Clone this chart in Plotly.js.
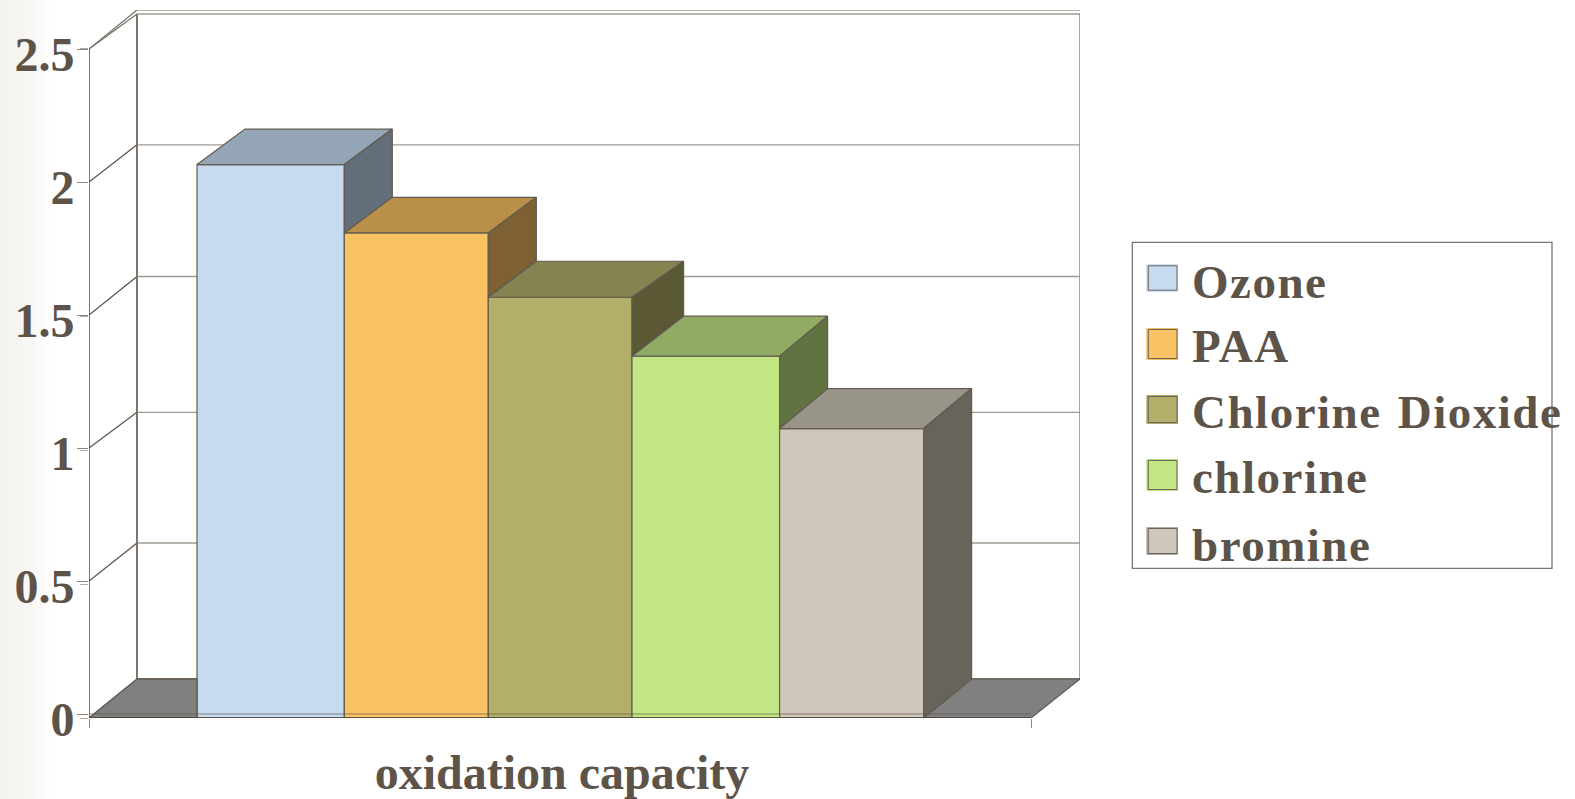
<!DOCTYPE html>
<html>
<head>
<meta charset="utf-8">
<script src="https://cdn.plot.ly/plotly-3.0.1.min.js"></script>
<style>
html,body{margin:0;padding:0;width:1575px;height:799px;overflow:hidden;background:linear-gradient(90deg,#f4f2ee 0,#f8f7f4 30px,#ffffff 54px);}
#chart{width:1575px;height:799px;}
.annotation-text{letter-spacing:1.5px;word-spacing:3px;}
</style>
</head>
<body>
<div id="chart"></div>
<script>
// ---- data ----
const categories = ['Ozone', 'PAA', 'Chlorine Dioxide', 'chlorine', 'bromine'];
const values = [2.065, 1.81, 1.57, 1.35, 1.08];
const axisLabel = 'oxidation capacity';
const yTicks = [0, 0.5, 1, 1.5, 2, 2.5];
const yTickText = ['0', '0.5', '1', '1.5', '2', '2.5'];

// ---- styles ----
const frontColors = ['#C6DBF0', '#F9C262', '#B2AF6A', '#C3E685', '#CFC7BA'];
const topColors = ['#94A5B5', '#BA8F4A', '#85834F', '#91AB64', '#9A958A'];
const sideColors = ['#626E7A', '#7D6132', '#5A5835', '#617340', '#67645C'];
const swatchEdge = ['#C3D8EC', '#F9BE5C', '#AFAC62', '#BEE37E', '#B5AEA1'];
const inkColor = '#5D5349';
const edgeColor = '#635B51';
const fontFamily = '"Liberation Serif", serif';
const FS = 48;

// ---- geometry (pixel frame of the drawing) ----
const W = 1575, H = 799;
const LEFT = 88.7, RIGHT = 1079.7, TOP = 10, ZERO = 718;
const SCALE = 268, TICKSCALE = 266, TICKZERO = 714;
const barEdges = [196.7, 344, 488, 631.7, 779.3, 923.3].map(p => p - LEFT);
const depthX = [48, 48, 51.6, 48, 48];
const depthY = [35.5, 35.6, 36, 40, 40].map(p => p / SCALE);
const WALLX = 48, WALLY = 39 / SCALE;
const FRONTEND = 1030.7 - LEFT;
const backGridPx = [679, 543, 412.3, 276.5, 144.8];   // printed position of each back-wall line

const toY = v => v * TICKSCALE / SCALE + (ZERO - TICKZERO) / SCALE;   // tick-plane value in bar units
const fromPx = p => (ZERO - p) / SCALE;
const px = p => (p - LEFT) / (RIGHT - LEFT);
const py = p => (ZERO - p) / (ZERO - TOP);

const traces = [];

// native bars: the front faces
categories.forEach((name, i) => {
  traces.push({
    type: 'bar', name, x: [(barEdges[i] + barEdges[i + 1]) / 2], y: [values[i]],
    width: [barEdges[i + 1] - barEdges[i]],
    marker: {color: frontColors[i], line: {color: edgeColor, width: 1.2}},
    showlegend: false, hoverinfo: 'name+y', xaxis: 'x', yaxis: 'y'
  });
});

function poly(xs, ys, fill, lw) {
  traces.push({
    type: 'scatter', mode: 'lines', x: xs.concat(xs[0]), y: ys.concat(ys[0]),
    fill: 'toself', fillcolor: fill, line: {color: edgeColor, width: lw || 1.2},
    cliponaxis: false, showlegend: false, hoverinfo: 'skip', xaxis: 'x', yaxis: 'y'
  });
}

// floor pieces left and right of the bars
const lastR = barEdges[barEdges.length - 1];
poly([0, barEdges[0], barEdges[0], WALLX], [0, 0, WALLY, WALLY], '#808080', 1.5);
poly([lastR, FRONTEND, RIGHT - LEFT, lastR + depthX[4]], [0, 0, WALLY, WALLY], '#808080');

// top and side faces, worked out from the values
categories.forEach((name, i) => {
  const xl = barEdges[i], xr = barEdges[i + 1], v = values[i];
  const dxL = i > 0 ? depthX[i - 1] : depthX[i];
  const dxR = depthX[i], dy = depthY[i];
  poly([xl, xr, xr + dxR, xl + dxL], [v, v, v + dy, v + dy], topColors[i]);
  if (i < categories.length - 1) {
    const nv = values[i + 1], ndy = depthY[i + 1];
    poly([xr, xr + dxR, xr + dxR, xr], [v, v + dy, nv + ndy, nv], sideColors[i]);
  } else {
    poly([xr, xr + dxR, xr + dxR, xr], [v, v + dy, WALLY, 0], sideColors[i]);
  }
});

// front axis lines
traces.push({type: 'scatter', mode: 'lines', x: [0, 0], y: [toY(2.5), -8 / SCALE],
  line: {color: '#5D5349', width: 1.6}, cliponaxis: false, showlegend: false, hoverinfo: 'skip', xaxis: 'x', yaxis: 'y'});
traces.push({type: 'scatter', mode: 'lines', x: [0, FRONTEND], y: [toY(0), toY(0)],
  line: {color: 'rgba(95,85,75,0.65)', width: 1.2}, cliponaxis: false, showlegend: false, hoverinfo: 'skip', xaxis: 'x', yaxis: 'y'});
traces.push({type: 'scatter', mode: 'lines', x: [0, FRONTEND], y: [0, 0],
  line: {color: '#463E35', width: 1.6}, cliponaxis: false, showlegend: false, hoverinfo: 'skip', xaxis: 'x', yaxis: 'y'});
// carries the labelled tick axis
traces.push({type: 'scatter', mode: 'none', x: [0], y: [0], showlegend: false, hoverinfo: 'skip', xaxis: 'x', yaxis: 'y2'});

// walls and gridlines sit under the bars
const shapes = [];
const wallLine = (x0, y0, x1, y1, color, w) => shapes.push({type: 'line', layer: 'below', xref: 'x', yref: 'y',
  x0, y0, x1, y1, line: {color, width: w || 1.3}});
const back14 = fromPx(14), back10 = fromPx(10);
wallLine(WALLX, WALLY, WALLX, back14, '#5D5349', 1.6);
wallLine(RIGHT - LEFT, WALLY, RIGHT - LEFT, back14, '#8F887F', 1.5);
backGridPx.forEach((p, i) => {
  wallLine(WALLX, fromPx(p), RIGHT - LEFT, fromPx(p), i === 0 ? '#5D5349' : '#A09A92');
  if (i > 0) wallLine(0, toY(yTicks[i]), WALLX, fromPx(p), '#5D5349', 1.3);
});
wallLine(0, toY(2.5), WALLX, back14, '#7A7269');
wallLine(0, toY(2.5), WALLX, back10, '#7A7269');
wallLine(WALLX, back14, RIGHT - LEFT, back14, '#A09A92', 1.5);
wallLine(WALLX, back10, RIGHT - LEFT, back10, '#A09A92', 1.5);

// legend box drawn to the reference size, so the long label can overrun it
const swatchTops = [264.3, 328, 395, 459, 527];
const swatchBottoms = [291.7, 360, 424, 491, 555];
const labelCentres = [282, 346, 412, 477, 545];
const annotations = [];
shapes.push({type: 'rect', xref: 'paper', yref: 'paper', x0: px(1132), x1: px(1551.7), y0: py(568.3), y1: py(242.3),
  line: {color: '#7C756C', width: 1.3}, fillcolor: 'rgba(255,255,255,0)', layer: 'above'});
categories.forEach((name, i) => {
  shapes.push({type: 'rect', xref: 'paper', yref: 'paper', x0: px(1146), x1: px(1177.7),
    y0: py(swatchBottoms[i]), y1: py(swatchTops[i]),
    fillcolor: swatchEdge[i], line: {width: 0}, layer: 'above'});
  shapes.push({type: 'rect', xref: 'paper', yref: 'paper', x0: px(1148), x1: px(1176.7),
    y0: py(swatchBottoms[i] - 1.5), y1: py(swatchTops[i] + 1.5),
    fillcolor: frontColors[i], line: {color: '#6B645A', width: 1}, layer: 'above'});
  annotations.push({xref: 'paper', yref: 'paper', x: px(1189.5), y: py(labelCentres[i]),
    xanchor: 'left', yanchor: 'middle', text: name, showarrow: false, align: 'left',
    font: {family: fontFamily, size: 47, color: inkColor, weight: 700}});
});

const layout = {
  width: W, height: H, autosize: false,
  margin: {l: LEFT, r: W - RIGHT, t: TOP, b: H - ZERO, pad: 0},
  paper_bgcolor: 'rgba(0,0,0,0)', plot_bgcolor: '#ffffff',
  barmode: 'overlay', showlegend: false, hovermode: 'closest',
  font: {family: fontFamily, size: FS, color: inkColor},
  xaxis: {
    range: [0, RIGHT - LEFT], fixedrange: true, showgrid: false, zeroline: false, showline: false,
    tickmode: 'array', tickvals: [561.7 - LEFT], ticktext: [axisLabel],
    ticks: 'outside', ticklen: 12, tickcolor: 'rgba(0,0,0,0)',
    tickfont: {family: fontFamily, size: FS, color: inkColor, weight: 700},
    minor: {tickmode: 'array', tickvals: [0, FRONTEND], ticks: 'outside', ticklen: 9, tickcolor: '#8C857C', tickwidth: 1.3, showgrid: false}
  },
  yaxis: {
    range: [0, (ZERO - TOP) / SCALE], fixedrange: true, showgrid: false, zeroline: false, showline: false,
    tickmode: 'array', tickvals: yTicks, ticktext: yTicks.map(() => ''),
    ticks: 'outside', ticklen: 8, tickcolor: '#B0AAA2', tickwidth: 1, showticklabels: false
  },
  yaxis2: {
    overlaying: 'y', side: 'left', anchor: 'x', fixedrange: true, showgrid: false, zeroline: false, showline: false,
    range: [(TICKZERO - ZERO) / TICKSCALE, (TICKZERO - TOP) / TICKSCALE],
    tickmode: 'array', tickvals: yTicks, ticktext: yTickText,
    ticks: 'outside', ticklen: 11, tickcolor: '#8C857C', tickwidth: 1,
    ticklabelstandoff: -7, ticklabelshift: 5,
    tickfont: {family: fontFamily, size: FS, color: inkColor, weight: 700}
  },
  shapes, annotations
};

Plotly.newPlot('chart', traces, layout, {displayModeBar: false, responsive: false});
</script>
</body>
</html>
